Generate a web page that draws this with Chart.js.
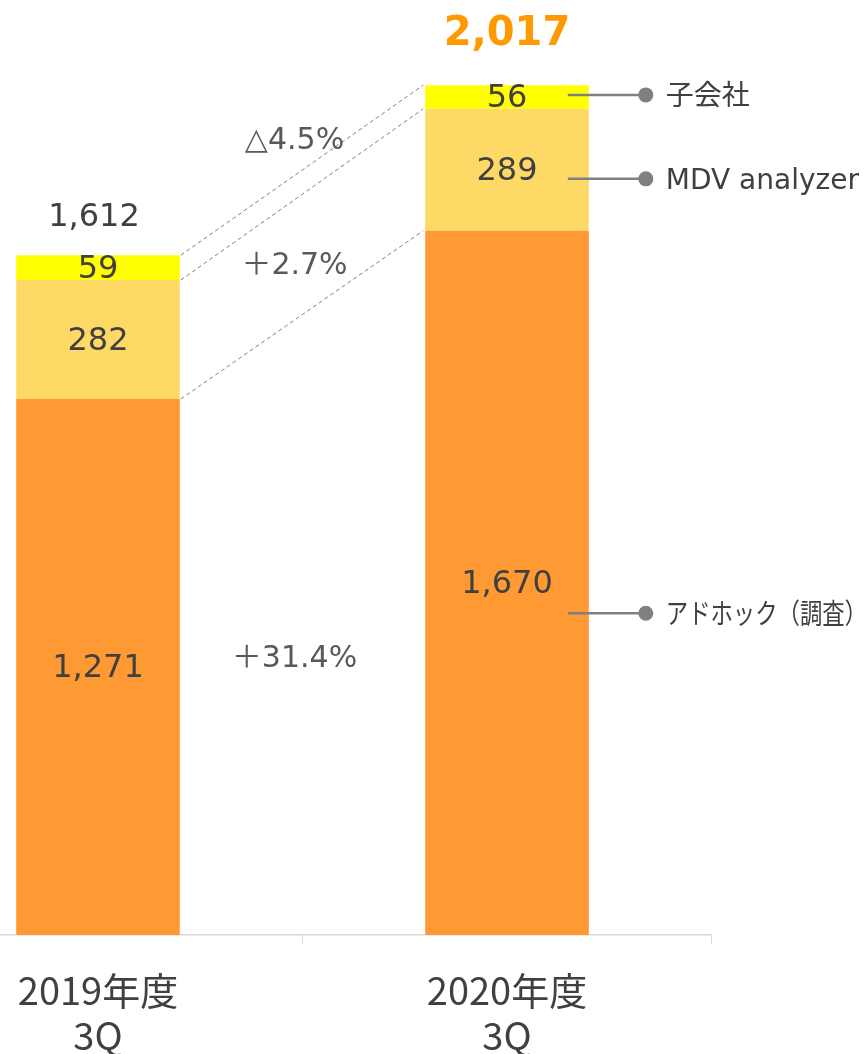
<!DOCTYPE html>
<html>
<head>
<meta charset="utf-8">
<script src="https://cdn.jsdelivr.net/npm/chart.js@4.4.0/dist/chart.umd.min.js"></script>
<style>
  body { margin: 0; width: 866px; height: 1054px; overflow: hidden; background: #fff; position: relative; }
  #wrap { position: absolute; left: -120px; top: 0; width: 1000px; height: 1054px; }
</style>
</head>
<body>
<div id="wrap"><canvas id="myChart" width="1000" height="1054"></canvas></div>
<script>
// data
var categories = [["2019年度", "3Q"], ["2020年度", "3Q"]];
var seriesNames = ["アドホック（調査）", "MDV analyzer", "子会社"];
var adhoc = [1271, 1670];
var mdv = [282, 289];
var subsidiary = [59, 56];
var totals = [1612, 2017];
var changes = ["＋31.4%", "＋2.7%", "△4.5%"];

// where the text sits (in y-axis units)
var changeLabelY = [655, 1586, 1883];
var calloutY = [763, 1793, 1992];

var colors = ["#FF9933", "#FFD966", "#FFFF00"];
var textColor = "#404040";
var font = '"DejaVu Sans", "Noto Sans CJK JP"';
var pageOffset = 120; // canvas is shifted left by this much

var labelPlugin = {
  id: "labels",
  afterDatasetsDraw: function (chart) {
    var ctx = chart.ctx;
    var yScale = chart.scales.y;
    var metas = [0, 1, 2].map(function (i) { return chart.getDatasetMeta(i); });
    ctx.save();

    // dashed lines between segment tops
    ctx.strokeStyle = "#7f7f7f";
    ctx.lineWidth = 1;
    ctx.setLineDash([4, 3]);
    metas.forEach(function (m) {
      var a = m.data[0], b = m.data[1];
      ctx.beginPath();
      ctx.moveTo(a.x + a.width / 2 + 1, a.y);
      ctx.lineTo(b.x - b.width / 2 - 2, b.y);
      ctx.stroke();
    });
    ctx.setLineDash([]);

    // segment values
    ctx.textAlign = "center";
    ctx.textBaseline = "middle";
    ctx.fillStyle = textColor;
    ctx.font = "32px " + font;
    chart.data.datasets.forEach(function (ds, i) {
      metas[i].data.forEach(function (bar, j) {
        ctx.fillText(ds.data[j].toLocaleString("en-US"), bar.x, (bar.y + bar.base) / 2 + 2);
      });
    });

    // totals
    var top0 = metas[2].data[0], top1 = metas[2].data[1];
    ctx.fillText(totals[0].toLocaleString("en-US"), top0.x - 4, top0.y - 37);
    ctx.fillStyle = "#FF9900";
    ctx.font = "bold 40px " + font;
    ctx.fillText(totals[1].toLocaleString("en-US"), top1.x, top1.y - 51);

    // change rates
    ctx.fillStyle = "#595959";
    ctx.font = "30px " + font;
    var midX = (top0.x + top0.width / 2 + top1.x - top1.width / 2) / 2 - 8;
    changes.forEach(function (t, i) {
      ctx.fillText(t, midX, yScale.getPixelForValue(changeLabelY[i]));
    });

    // callouts
    ctx.textAlign = "left";
    ctx.font = "28px " + font;
    var right = top1.x + top1.width / 2;
    var maxW = 866 + pageOffset - (right + 77) + 1;
    seriesNames.forEach(function (name, i) {
      var y = yScale.getPixelForValue(calloutY[i]);
      ctx.strokeStyle = "#808080";
      ctx.lineWidth = 2.5;
      ctx.beginPath();
      ctx.moveTo(right - 21, y);
      ctx.lineTo(right + 57, y);
      ctx.stroke();
      ctx.fillStyle = "#808080";
      ctx.beginPath();
      ctx.arc(right + 57, y, 7.5, 0, Math.PI * 2);
      ctx.fill();
      ctx.fillStyle = textColor;
      ctx.fillText(name, right + 77, y + 3, maxW);
    });
    ctx.restore();
  }
};

var config = {
  type: "bar",
  data: {
    labels: categories,
    datasets: [
      { label: seriesNames[0], data: adhoc, backgroundColor: colors[0] },
      { label: seriesNames[1], data: mdv, backgroundColor: colors[1] },
      { label: seriesNames[2], data: subsidiary, backgroundColor: colors[2] }
    ]
  },
  options: {
    responsive: false,
    animation: false,
    devicePixelRatio: 1,
    categoryPercentage: 1,
    barPercentage: 0.4,
    layout: { padding: { left: 13.5, right: 168.5, top: 7.2, bottom: 0 } },
    plugins: { legend: { display: false }, tooltip: { enabled: false } },
    scales: {
      x: {
        stacked: true,
        afterFit: function (scale) { scale.height = 119; },
        grid: { drawOnChartArea: false, drawTicks: true, tickLength: 9, color: "#d9d9d9", offset: true },
        border: { display: true, color: "#d9d9d9", width: 1.5 },
        ticks: {
          color: textColor,
          padding: 24,
          maxRotation: 0,
          font: { family: '"Noto Sans CJK JP", "DejaVu Sans"', size: 38, lineHeight: 1.18 }
        }
      },
      y: { stacked: true, display: false, min: 0, max: 2200 }
    }
  },
  plugins: [labelPlugin]
};

var myChart = new Chart(document.getElementById("myChart"), config);
</script>
</body>
</html>
